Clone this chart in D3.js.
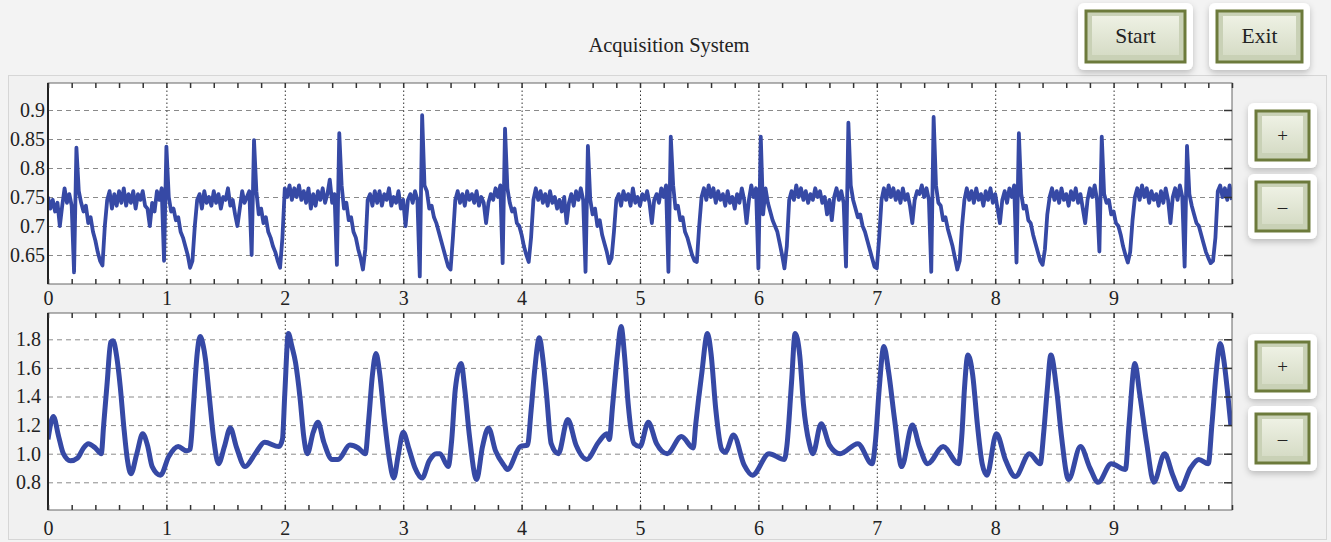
<!DOCTYPE html>
<html>
<head>
<meta charset="utf-8">
<script src="https://cdn.jsdelivr.net/npm/d3@7"></script>
<style>
  body { margin: 0; background: #f2f2f2; }
  text { font-family: "Liberation Serif", "DejaVu Serif", serif; }
</style>
</head>
<body>
<svg id="chart" width="1331" height="542"></svg>
<script>
// ---- data ----
const titleText = "Acquisition System";
const topButtons = ["Start", "Exit"];
const zoomButtons = ["+", "–"];

const xTicks = [0, 1, 2, 3, 4, 5, 6, 7, 8, 9];
const ecgTicks = [0.65, 0.7, 0.75, 0.8, 0.85, 0.9];
const ppgTicks = [0.8, 1.0, 1.2, 1.4, 1.6, 1.8];

// upper trace, one value every 0.02 s (rows of 0.2 s)
const ecgStep = 0.02;
const ecgValues = [
  0.75, 0.73, 0.745, 0.725, 0.74, 0.70, 0.735, 0.765, 0.74, 0.755,
  0.735, 0.62, 0.835, 0.76, 0.74, 0.725, 0.735, 0.705, 0.715, 0.69,
  0.675, 0.655, 0.64, 0.632, 0.70, 0.745, 0.76, 0.73, 0.755, 0.735,
  0.76, 0.74, 0.765, 0.735, 0.755, 0.74, 0.76, 0.73, 0.755, 0.745,
  0.76, 0.735, 0.73, 0.70, 0.74, 0.725, 0.76, 0.745, 0.765, 0.64,
  0.837, 0.75, 0.725, 0.73, 0.71, 0.715, 0.69, 0.68, 0.665, 0.65,
  0.628, 0.64, 0.70, 0.745, 0.755, 0.73, 0.76, 0.74, 0.75, 0.735,
  0.76, 0.74, 0.755, 0.73, 0.75, 0.745, 0.765, 0.735, 0.745, 0.72,
  0.70, 0.73, 0.76, 0.74, 0.75, 0.76, 0.65, 0.848, 0.76, 0.72,
  0.73, 0.705, 0.715, 0.69, 0.68, 0.665, 0.655, 0.64, 0.628, 0.68,
  0.765, 0.75, 0.77, 0.745, 0.765, 0.75, 0.77, 0.745, 0.76, 0.74,
  0.765, 0.73, 0.755, 0.735, 0.76, 0.745, 0.765, 0.74, 0.755, 0.78,
  0.74, 0.755, 0.633, 0.86, 0.77, 0.73, 0.74, 0.71, 0.715, 0.69,
  0.68, 0.66, 0.645, 0.625, 0.66, 0.745, 0.755, 0.735, 0.76, 0.74,
  0.76, 0.735, 0.755, 0.745, 0.765, 0.735, 0.75, 0.74, 0.76, 0.73,
  0.745, 0.70, 0.745, 0.755, 0.74, 0.76, 0.745, 0.613, 0.891, 0.77,
  0.76, 0.73, 0.735, 0.715, 0.705, 0.69, 0.675, 0.66, 0.645, 0.63,
  0.625, 0.68, 0.745, 0.76, 0.74, 0.755, 0.735, 0.76, 0.745, 0.755,
  0.74, 0.76, 0.735, 0.75, 0.74, 0.705, 0.74, 0.755, 0.745, 0.765,
  0.75, 0.77, 0.636, 0.868, 0.765, 0.74, 0.725, 0.73, 0.705, 0.70,
  0.685, 0.665, 0.65, 0.638, 0.68, 0.745, 0.765, 0.745, 0.76, 0.74,
  0.755, 0.735, 0.76, 0.74, 0.75, 0.73, 0.745, 0.725, 0.75, 0.705,
  0.74, 0.755, 0.735, 0.76, 0.745, 0.765, 0.745, 0.621, 0.838, 0.745,
  0.72, 0.73, 0.70, 0.71, 0.685, 0.67, 0.655, 0.636, 0.645, 0.69,
  0.745, 0.755, 0.735, 0.76, 0.745, 0.755, 0.735, 0.765, 0.74, 0.75,
  0.735, 0.755, 0.745, 0.76, 0.74, 0.705, 0.745, 0.755, 0.74, 0.765,
  0.75, 0.77, 0.621, 0.854, 0.77, 0.73, 0.735, 0.71, 0.715, 0.69,
  0.68, 0.665, 0.65, 0.64, 0.638, 0.70, 0.75, 0.765, 0.745, 0.77,
  0.75, 0.765, 0.74, 0.76, 0.745, 0.755, 0.735, 0.76, 0.74, 0.75,
  0.73, 0.755, 0.74, 0.765, 0.745, 0.705, 0.745, 0.77, 0.75, 0.765,
  0.627, 0.854, 0.72, 0.765, 0.74, 0.725, 0.71, 0.70, 0.69, 0.67,
  0.65, 0.627, 0.665, 0.745, 0.76, 0.745, 0.77, 0.75, 0.765, 0.745,
  0.76, 0.74, 0.755, 0.745, 0.765, 0.75, 0.76, 0.74, 0.75, 0.72,
  0.745, 0.71, 0.75, 0.765, 0.745, 0.76, 0.74, 0.63, 0.878, 0.77,
  0.745, 0.73, 0.715, 0.72, 0.70, 0.69, 0.675, 0.66, 0.645, 0.63,
  0.627, 0.68, 0.745, 0.765, 0.745, 0.77, 0.75, 0.765, 0.745, 0.76,
  0.74, 0.765, 0.745, 0.755, 0.735, 0.705, 0.745, 0.76, 0.755, 0.77,
  0.75, 0.765, 0.745, 0.621, 0.888, 0.77, 0.74, 0.735, 0.71, 0.715,
  0.695, 0.68, 0.665, 0.645, 0.625, 0.64, 0.70, 0.745, 0.765, 0.745,
  0.76, 0.74, 0.765, 0.745, 0.755, 0.735, 0.76, 0.745, 0.765, 0.74,
  0.755, 0.73, 0.705, 0.745, 0.76, 0.74, 0.765, 0.75, 0.77, 0.637,
  0.86, 0.755, 0.73, 0.735, 0.71, 0.705, 0.685, 0.67, 0.655, 0.64,
  0.633, 0.66, 0.72, 0.75, 0.765, 0.745, 0.76, 0.74, 0.765, 0.745,
  0.755, 0.735, 0.76, 0.745, 0.765, 0.74, 0.755, 0.73, 0.705, 0.745,
  0.765, 0.75, 0.77, 0.745, 0.656, 0.854, 0.755, 0.74, 0.745, 0.72,
  0.725, 0.705, 0.70, 0.685, 0.665, 0.65, 0.637, 0.655, 0.71, 0.75,
  0.765, 0.745, 0.77, 0.75, 0.765, 0.74, 0.76, 0.745, 0.755, 0.735,
  0.76, 0.74, 0.765, 0.745, 0.705, 0.75, 0.765, 0.745, 0.77, 0.75,
  0.63, 0.838, 0.755, 0.735, 0.72, 0.705, 0.70, 0.685, 0.67, 0.655,
  0.645, 0.636, 0.64, 0.68, 0.76, 0.77, 0.75, 0.765, 0.745, 0.77,
  0.745
];

// lower trace, [time, value] points
const ppgPoints = [
  [0.00, 1.10], [0.045, 1.26], [0.09, 1.12], [0.13, 1.00], [0.19, 0.95], [0.25, 0.97],
  [0.30, 1.04], [0.34, 1.07], [0.40, 1.04], [0.45, 1.00], [0.47, 1.20], [0.50, 1.50],
  [0.53, 1.78], [0.55, 1.79], [0.58, 1.68], [0.61, 1.47], [0.64, 1.19], [0.67, 0.96],
  [0.70, 0.86], [0.75, 1.00], [0.80, 1.14], [0.84, 1.06], [0.88, 0.91], [0.95, 0.85],
  [1.02, 0.98], [1.10, 1.05], [1.17, 1.02], [1.20, 1.03], [1.21, 1.10], [1.23, 1.35],
  [1.26, 1.70], [1.285, 1.82], [1.31, 1.76], [1.33, 1.66], [1.36, 1.42], [1.40, 1.10],
  [1.44, 0.93], [1.49, 1.05], [1.54, 1.18], [1.59, 1.05], [1.665, 0.91], [1.75, 1.00],
  [1.83, 1.08], [1.95, 1.05], [1.98, 1.10], [2.00, 1.42], [2.03, 1.84], [2.06, 1.75],
  [2.09, 1.64], [2.13, 1.38], [2.16, 1.12], [2.19, 1.00], [2.24, 1.15], [2.28, 1.22],
  [2.33, 1.08], [2.40, 0.96], [2.45, 0.96], [2.55, 1.06], [2.62, 1.04], [2.68, 1.00],
  [2.71, 1.25], [2.74, 1.55], [2.77, 1.70], [2.80, 1.57], [2.84, 1.25], [2.88, 0.98],
  [2.92, 0.83], [2.96, 1.00], [3.00, 1.15], [3.05, 1.03], [3.10, 0.90], [3.16, 0.83],
  [3.22, 0.95], [3.28, 1.00], [3.31, 1.00], [3.38, 0.91], [3.41, 1.10], [3.44, 1.45],
  [3.49, 1.63], [3.52, 1.45], [3.56, 1.12], [3.62, 0.82], [3.67, 1.05], [3.72, 1.18],
  [3.78, 1.02], [3.85, 0.92], [3.88, 0.89], [3.99, 1.05], [4.05, 1.06], [4.08, 1.30],
  [4.11, 1.58], [4.15, 1.81], [4.18, 1.66], [4.21, 1.42], [4.25, 1.07], [4.31, 1.00],
  [4.39, 1.24], [4.46, 1.06], [4.55, 0.96], [4.65, 1.08], [4.72, 1.14], [4.74, 1.10],
  [4.77, 1.35], [4.81, 1.70], [4.84, 1.89], [4.87, 1.68], [4.90, 1.35], [4.95, 1.07],
  [5.00, 1.05], [5.07, 1.22], [5.14, 1.07], [5.23, 1.00], [5.35, 1.12], [5.45, 1.04],
  [5.47, 1.20], [5.52, 1.55], [5.57, 1.84], [5.60, 1.70], [5.64, 1.31], [5.69, 1.03],
  [5.72, 1.01], [5.79, 1.13], [5.88, 0.92], [5.95, 0.85], [6.09, 1.00], [6.22, 0.96],
  [6.24, 1.05], [6.28, 1.50], [6.31, 1.84], [6.35, 1.68], [6.38, 1.35], [6.43, 1.07],
  [6.46, 1.00], [6.53, 1.21], [6.60, 1.06], [6.69, 1.00], [6.84, 1.07], [6.96, 0.93],
  [6.99, 1.10], [7.02, 1.45], [7.06, 1.75], [7.10, 1.57], [7.15, 1.24], [7.21, 0.91],
  [7.30, 1.20], [7.36, 1.05], [7.43, 0.93], [7.56, 1.05], [7.69, 0.93], [7.72, 1.15],
  [7.74, 1.45], [7.77, 1.69], [7.81, 1.55], [7.85, 1.20], [7.89, 0.93], [7.93, 0.85],
  [8.01, 1.14], [8.09, 0.95], [8.17, 0.84], [8.29, 1.00], [8.38, 0.93], [8.41, 1.15],
  [8.44, 1.45], [8.47, 1.69], [8.52, 1.44], [8.56, 1.12], [8.62, 0.82], [8.72, 1.05],
  [8.80, 0.90], [8.87, 0.80], [8.98, 0.93], [9.10, 0.89], [9.13, 1.20], [9.18, 1.63],
  [9.22, 1.42], [9.28, 1.07], [9.34, 0.80], [9.43, 1.00], [9.50, 0.85], [9.56, 0.75],
  [9.65, 0.90], [9.72, 0.96], [9.80, 0.93], [9.83, 1.20], [9.87, 1.60], [9.90, 1.77],
  [9.93, 1.66], [9.96, 1.45], [9.99, 1.20]
];

// ---- drawing ----
const svg = d3.select("#chart");
const lineColor = "#3649a5";
const fontSize = 20;

const defs = svg.append("defs");
defs.append("filter").attr("id", "shadow")
    .attr("x", "-30%").attr("y", "-30%").attr("width", "160%").attr("height", "170%")
  .append("feDropShadow")
    .attr("dx", 0).attr("dy", 3).attr("stdDeviation", 3)
    .attr("flood-color", "#000").attr("flood-opacity", 0.22);

const grad = defs.append("linearGradient").attr("id", "btnFill")
    .attr("x1", 0).attr("y1", 0).attr("x2", 0).attr("y2", 1);
grad.append("stop").attr("offset", "0%").attr("stop-color", "#eef1e4");
grad.append("stop").attr("offset", "100%").attr("stop-color", "#d6dcc6");

// window background + panel
svg.append("rect").attr("width", 1331).attr("height", 542).attr("fill", "#f3f3f3");
svg.append("rect")
    .attr("x", 8.5).attr("y", 75.5).attr("width", 1318).attr("height", 464)
    .attr("fill", "#f1f1f1").attr("stroke", "#d6d6d6");

svg.append("text")
    .attr("x", 669).attr("y", 52)
    .attr("text-anchor", "middle")
    .attr("font-size", 20.5)
    .attr("fill", "#222")
    .text(titleText);

function drawButton(ox, oy, ow, oh, label, size) {
    const g = svg.append("g");
    g.append("rect")
        .attr("x", ox).attr("y", oy).attr("width", ow).attr("height", oh)
        .attr("rx", 6).attr("fill", "#fff")
        .attr("filter", "url(#shadow)");
    const ix = ox + 8, iy = oy + 8, iw = ow - 16, ih = oh - 16;
    g.append("rect")
        .attr("x", ix).attr("y", iy).attr("width", iw).attr("height", ih)
        .attr("fill", "#c9d1b6").attr("stroke", "#6c7a3b").attr("stroke-width", 3);
    g.append("rect")
        .attr("x", ix + 6).attr("y", iy + 5).attr("width", iw - 12).attr("height", ih - 12)
        .attr("fill", "url(#btnFill)");
    g.append("text")
        .attr("x", ix + iw / 2).attr("y", iy + ih / 2 + size * 0.32)
        .attr("text-anchor", "middle")
        .attr("font-size", size)
        .attr("fill", "#222")
        .text(label);
}

drawButton(1078, 3, 115, 67, topButtons[0], 21.5);
drawButton(1209, 3, 101, 67, topButtons[1], 21.5);
drawButton(1248, 103, 69, 65, zoomButtons[0], 19);
drawButton(1248, 174, 69, 65, zoomButtons[1], 19);
drawButton(1248, 334, 69, 65, zoomButtons[0], 19);
drawButton(1248, 406, 69, 65, zoomButtons[1], 19);

const x = d3.scaleLinear().domain([0, 10]).range([48, 1232]);
const plotW = 1184;

function drawPlot(cfg) {
    const y = d3.scaleLinear().domain(cfg.refVals).range(cfg.refPx);
    const h = cfg.bottom - cfg.top;
    const g = svg.append("g");

    g.append("rect")
        .attr("x", 48).attr("y", cfg.top).attr("width", plotW).attr("height", h)
        .attr("fill", "#fff");

    // horizontal grid
    g.append("g")
        .attr("transform", "translate(48,0)")
        .call(d3.axisLeft(y).tickValues(cfg.ticks).tickSize(-plotW).tickFormat(""))
        .call(s => s.select(".domain").remove())
        .call(s => s.selectAll("line")
            .attr("stroke", "#8a8a8a").attr("stroke-dasharray", "5,4"));

    // vertical grid at whole seconds
    g.append("g")
        .attr("transform", `translate(0,${cfg.bottom})`)
        .call(d3.axisBottom(x).tickValues(xTicks.slice(1)).tickSize(-h).tickFormat(""))
        .call(s => s.select(".domain").remove())
        .call(s => s.selectAll("line")
            .attr("stroke", "#333").attr("stroke-dasharray", "1.5,2.5"));

    // trace
    const clipId = "clip-" + cfg.id;
    defs.append("clipPath").attr("id", clipId)
      .append("rect")
        .attr("x", 48).attr("y", cfg.top).attr("width", plotW).attr("height", h);

    const line = d3.line()
        .x(d => x(d[0]))
        .y(d => y(d[1]))
        .curve(cfg.curve);

    g.append("path")
        .datum(cfg.data)
        .attr("clip-path", `url(#${clipId})`)
        .attr("fill", "none")
        .attr("stroke", lineColor)
        .attr("stroke-width", cfg.width)
        .attr("stroke-linejoin", "round")
        .attr("d", line);

    // frame
    g.append("rect")
        .attr("x", 48).attr("y", cfg.top).attr("width", plotW).attr("height", h)
        .attr("fill", "none").attr("stroke", "#666");
    g.append("line")
        .attr("x1", 48).attr("x2", 48).attr("y1", cfg.top).attr("y2", cfg.bottom)
        .attr("stroke", "#222").attr("stroke-width", 2);

    // minor ticks on top and bottom edges
    const minor = s => s.call(a => a.select(".domain").remove())
        .call(a => a.selectAll("line").attr("stroke", "#333").attr("stroke-width", 1.5));
    g.append("g").attr("transform", `translate(0,${cfg.top})`)
        .call(d3.axisTop(x).ticks(50).tickSize(-5).tickFormat("")).call(minor);
    g.append("g").attr("transform", `translate(0,${cfg.bottom})`)
        .call(d3.axisBottom(x).ticks(50).tickSize(-5).tickFormat("")).call(minor);
    g.append("g").attr("transform", "translate(1232,0)")
        .call(d3.axisRight(y).tickValues(cfg.ticks).tickSize(-8).tickFormat("")).call(minor);

    // labels
    g.append("g")
        .attr("transform", "translate(48,0)")
        .call(d3.axisLeft(y).tickValues(cfg.ticks).tickSize(0).tickPadding(cfg.yPad).tickFormat(cfg.fmt))
        .call(s => s.select(".domain").remove())
        .call(s => s.selectAll("text")
            .attr("font-family", "Liberation Serif, DejaVu Serif, serif")
            .attr("font-size", fontSize).attr("fill", "#222"));

    g.append("g")
        .attr("transform", `translate(0,${cfg.bottom})`)
        .call(d3.axisBottom(x).tickValues(xTicks).tickSize(0).tickPadding(cfg.xPad).tickFormat(d3.format("d")))
        .call(s => s.select(".domain").remove())
        .call(s => s.selectAll("text")
            .attr("font-family", "Liberation Serif, DejaVu Serif, serif")
            .attr("font-size", fontSize).attr("fill", "#222"));
}

drawPlot({
    id: "ecg",
    top: 83, bottom: 284,
    refVals: [0.65, 0.9], refPx: [255, 110],
    ticks: ecgTicks,
    fmt: d => String(d),
    data: ecgValues.map((v, i) => [i * ecgStep, v]),
    curve: d3.curveLinear,
    width: 3.8,
    yPad: 3, xPad: 7
});

drawPlot({
    id: "ppg",
    top: 313, bottom: 510,
    refVals: [0.8, 1.8], refPx: [482.3, 339.3],
    ticks: ppgTicks,
    fmt: d3.format(".1f"),
    data: ppgPoints,
    curve: d3.curveMonotoneX,
    width: 5,
    yPad: 7, xPad: 11
});
</script>
</body>
</html>
